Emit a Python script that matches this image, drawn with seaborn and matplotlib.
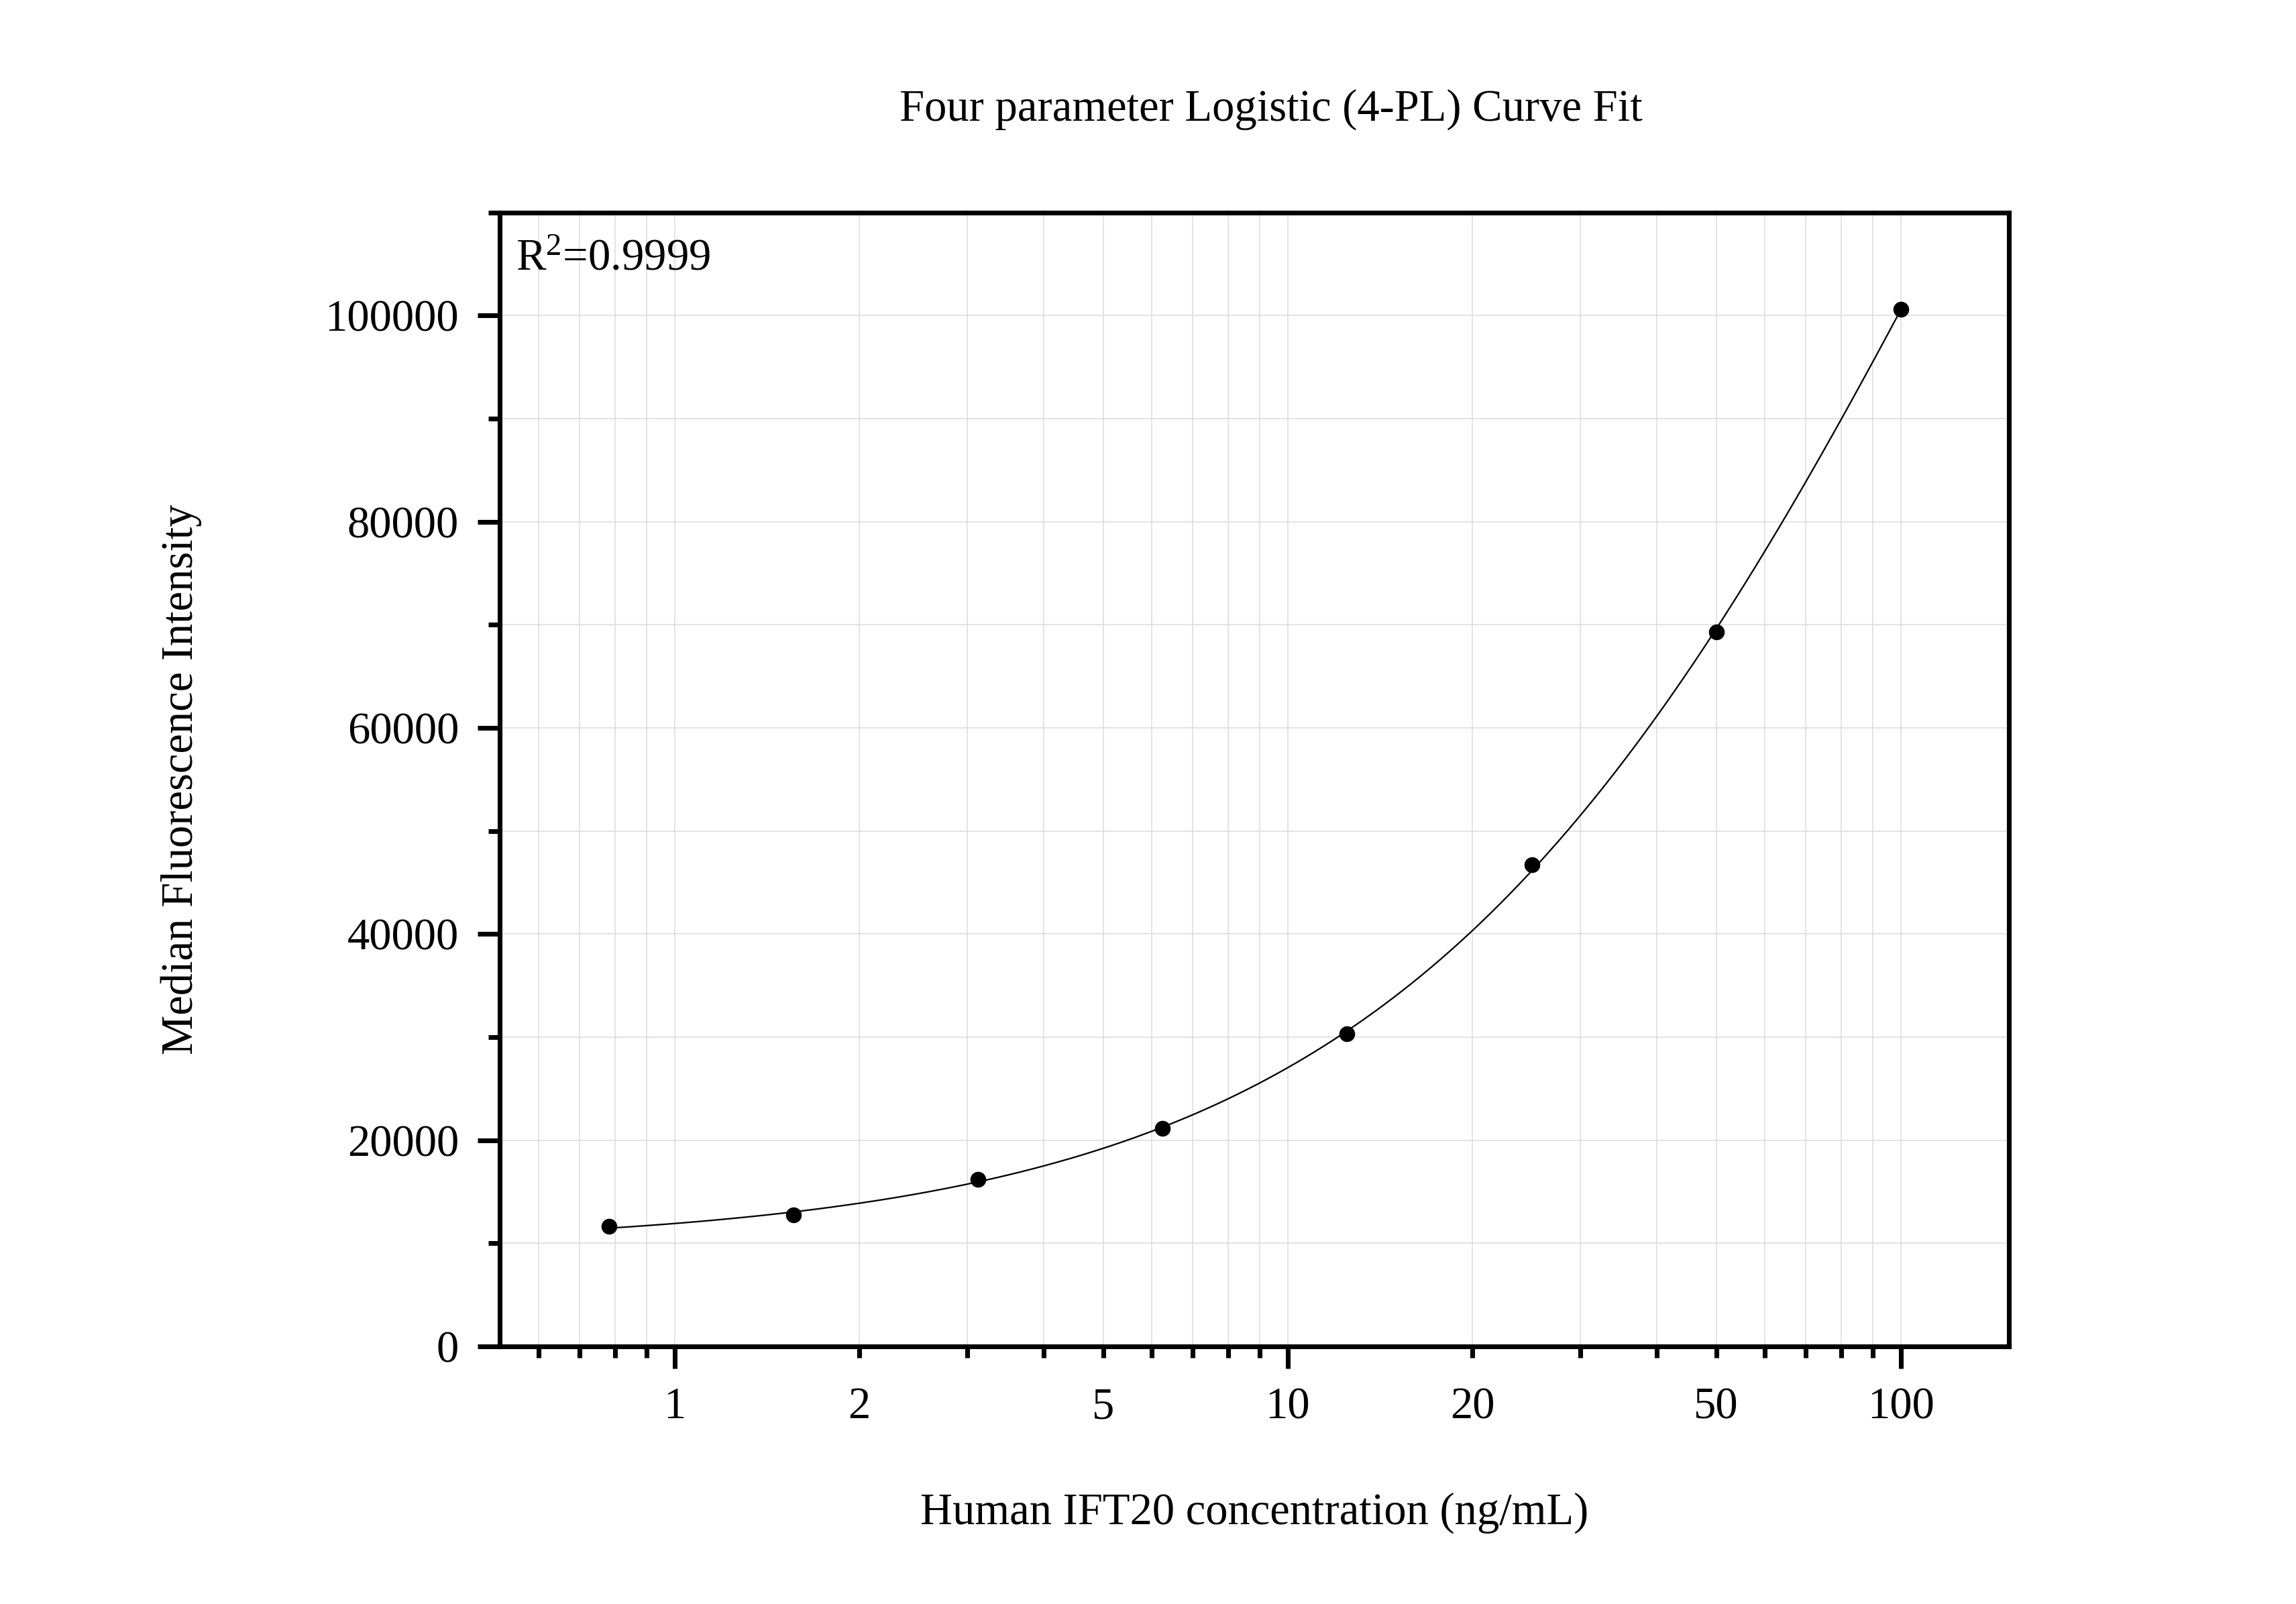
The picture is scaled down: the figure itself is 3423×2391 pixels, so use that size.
import numpy as np
import pandas as pd
import matplotlib
matplotlib.use("Agg")
import matplotlib.pyplot as plt
import matplotlib.ticker as mticker
import seaborn as sns

# ---- data ----
concentration = [0.78125, 1.5625, 3.125, 6.25, 12.5, 25, 50, 100]
mfi = [11630, 12750, 16180, 21130, 30320, 46760, 69310, 100600]
r_squared_text = "0.9999"
title_text = "Four parameter Logistic (4-PL) Curve Fit"
xlabel_text = "Human IFT20 concentration (ng/mL)"
ylabel_text = "Median Fluorescence Intensity"
x_major_ticks = [1, 2, 5, 10, 20, 50, 100]
x_minor_ticks = [0.6, 0.7, 0.8, 0.9, 3, 4, 6, 7, 8, 9, 30, 40, 60, 70, 80, 90]
x_decade_ticks = [1, 10, 100]
y_major_ticks = [0, 20000, 40000, 60000, 80000, 100000]
y_minor_ticks = [10000, 30000, 50000, 70000, 90000, 110000]

df = pd.DataFrame({"conc": concentration, "mfi": mfi})

# ---- 4PL fit (least squares; a, d linear given b, c) ----
xa = np.asarray(concentration, float)
ya = np.asarray(mfi, float)
best = None
for b in np.arange(0.5, 3.0001, 0.01):
    for lc in np.arange(0.0, 4.0001, 0.01):
        w = 1.0 / (1.0 + (xa / 10 ** lc) ** b)
        A = np.column_stack([w, 1 - w])
        coef, *_ = np.linalg.lstsq(A, ya, rcond=None)
        sse = float(((A @ coef - ya) ** 2).sum())
        if best is None or sse < best[0]:
            best = (sse, b, 10 ** lc, coef[0], coef[1])
_, fb, fc, fa, fd = best
xfit = np.logspace(np.log10(xa.min()), np.log10(xa.max()), 400)
yfit = fd + (fa - fd) / (1 + (xfit / fc) ** fb)
fit_df = pd.DataFrame({"conc": xfit, "mfi": yfit})

# ---- style ----
sns.set_theme(style="ticks")
plt.rcParams["font.family"] = ["Liberation Serif", "DejaVu Serif"]
plt.rcParams["mathtext.fontset"] = "custom"
plt.rcParams["mathtext.rm"] = "Liberation Serif"
plt.rcParams["mathtext.it"] = "Liberation Serif:italic"
plt.rcParams["text.color"] = "black"
plt.rcParams["axes.labelcolor"] = "black"
plt.rcParams["xtick.color"] = "black"
plt.rcParams["ytick.color"] = "black"

fig = plt.figure(figsize=(11.41, 7.97), dpi=300)
ax = fig.add_axes([0.2175, 0.1606, 0.8750 - 0.2175, 0.8675 - 0.1606])

sns.lineplot(data=fit_df, x="conc", y="mfi", color="black", linewidth=0.55, ax=ax, zorder=3)
sns.scatterplot(data=df, x="conc", y="mfi", color="black", s=32, linewidth=0, ax=ax, zorder=4)

ax.set_xscale("log")
ax.set_xlim(0.518, 150.1)
ax.set_ylim(0, 110000)

ax.xaxis.set_major_locator(mticker.FixedLocator(x_major_ticks))
ax.xaxis.set_minor_locator(mticker.FixedLocator(x_minor_ticks))
ax.xaxis.set_major_formatter(mticker.FixedFormatter([str(t) for t in x_major_ticks]))
ax.xaxis.set_minor_formatter(mticker.NullFormatter())
ax.yaxis.set_major_locator(mticker.FixedLocator(y_major_ticks))
ax.yaxis.set_minor_locator(mticker.FixedLocator(y_minor_ticks))
ax.yaxis.set_major_formatter(mticker.FixedFormatter([str(t) for t in y_major_ticks]))

ax.tick_params(axis="both", which="major", direction="out", length=8, width=1.7,
               labelsize=16, color="black", labelcolor="black")
ax.tick_params(axis="x", which="major", pad=6.5)
ax.tick_params(axis="y", which="major", pad=6.5)
ax.tick_params(axis="both", which="minor", direction="out", length=4, width=1.7, color="black")
ax.tick_params(top=False, right=False, which="both")

for tick, val in zip(ax.xaxis.get_major_ticks(), x_major_ticks):
    if val not in x_decade_ticks:
        tick.tick1line.set_markersize(4)

for side in ["left", "right", "top", "bottom"]:
    ax.spines[side].set_visible(True)
    ax.spines[side].set_linewidth(1.7)
    ax.spines[side].set_color("black")

ax.grid(True, which="both", color="#dedede", linewidth=0.4)
ax.set_axisbelow(True)

ax.set_xlabel(xlabel_text, fontsize=16, va="baseline", color="black")
ax.xaxis.set_label_coords(0.5, (2007 - 2272) / 1690.3)
ax.set_ylabel(ylabel_text, fontsize=16, va="baseline", color="black")
ax.yaxis.set_label_coords((287 - 744.6) / 2250.4, 0.5)
ax.set_title(title_text, fontsize=16, x=0.511, y=(2007 - 179) / 1690.3, va="baseline",
             pad=0, color="black")

ax.text(0.0108, 0.9495, "R$^{2}$=" + r_squared_text, transform=ax.transAxes,
        fontsize=16, va="baseline", ha="left", color="black")

fig.savefig("out.png", dpi=300, facecolor="white")
